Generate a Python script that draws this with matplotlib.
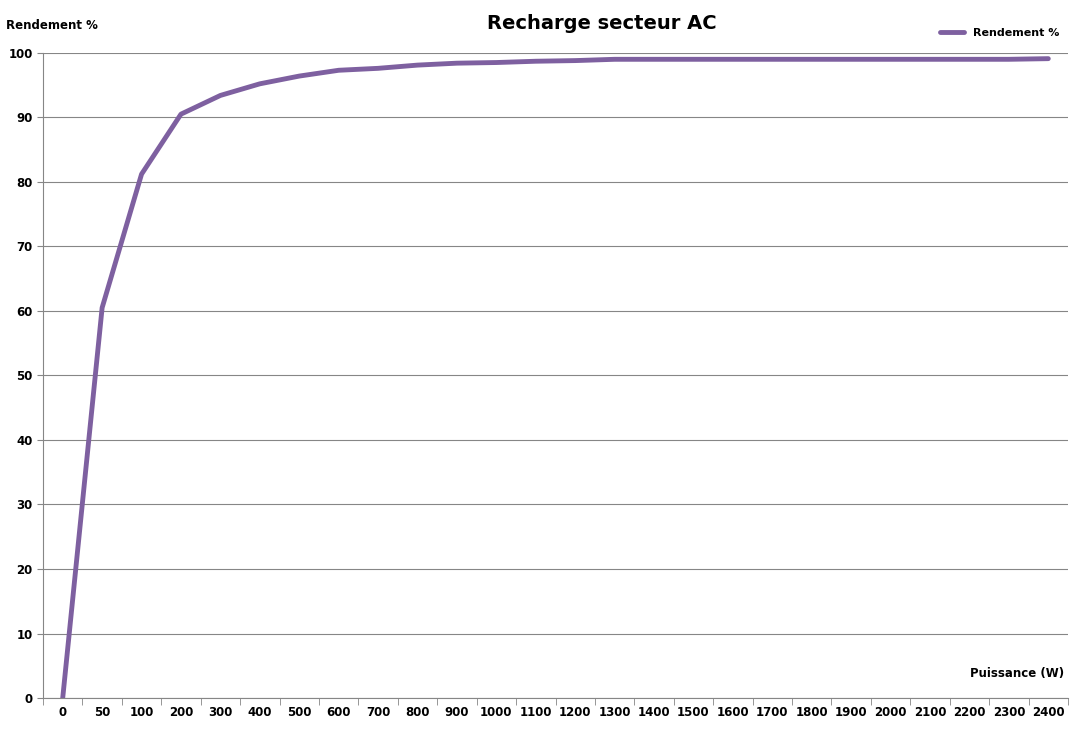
import matplotlib
matplotlib.use("Agg")
import matplotlib.pyplot as plt
import numpy as np

categories = ["0","50","100","200","300","400","500","600","700","800","900","1000","1100","1200",
              "1300","1400","1500","1600","1700","1800","1900","2000","2100","2200","2300","2400"]
rendement = [0, 60.5, 81.2, 90.5, 93.4, 95.2, 96.4, 97.3, 97.6, 98.1, 98.4, 98.5, 98.7, 98.8,
             99.0, 99.0, 99.0, 99.0, 99.0, 99.0, 99.0, 99.0, 99.0, 99.0, 99.0, 99.1]

fig = plt.figure(figsize=(10.75, 7.34), dpi=100)
ax = fig.add_axes([0.04, 0.049, 0.9535, 0.879])
x = np.arange(len(categories))
ax.plot(x, rendement, color="#7E60A0", lw=3.5, label="Rendement %", solid_capstyle="round")
ax.set_xlim(-0.5, len(categories) - 0.5)
ax.set_ylim(0, 100)
ax.set_yticks(range(0, 101, 10))
ax.set_xticks(x)
ax.set_xticklabels(categories, fontsize=8.5, fontweight="bold")
ax.set_xticks(np.arange(-0.5, len(categories), 1), minor=True)
ax.tick_params(axis="x", which="major", length=0, pad=6)
ax.tick_params(axis="x", which="minor", length=5, color="#868686")
ax.tick_params(axis="y", labelsize=8.5, length=4, color="#868686")
for l in ax.get_yticklabels():
    l.set_fontweight("bold")
ax.yaxis.grid(True, color="#868686", lw=0.8)
ax.set_axisbelow(True)
for s in ["top", "right"]:
    ax.spines[s].set_visible(False)
for s in ["left", "bottom"]:
    ax.spines[s].set_color("#868686")
fig.text(0.56, 0.968, "Recharge secteur AC", ha="center", va="center", fontsize=14, fontweight="bold")
fig.text(0.006, 0.965, "Rendement %", ha="left", va="center", fontsize=8.5, fontweight="bold")
fig.text(0.99, 0.082, "Puissance (W)", ha="right", va="center", fontsize=8.5, fontweight="bold")
leg = fig.legend(loc="upper right", bbox_to_anchor=(0.995, 0.975), frameon=False,
                 prop={"size": 8, "weight": "bold"}, handlelength=2.2)
fig.savefig("out.png", dpi=100)
